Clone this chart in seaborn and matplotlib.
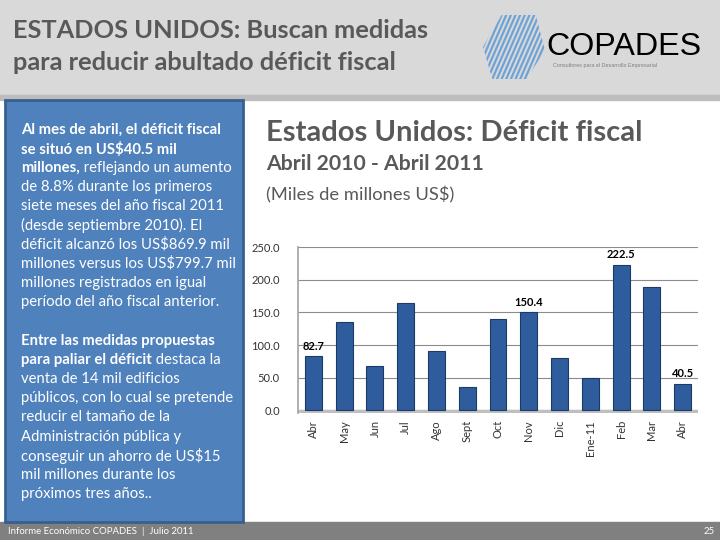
import numpy as np
import pandas as pd
import seaborn as sns
import matplotlib.pyplot as plt
from matplotlib.patches import Rectangle, Polygon

# datos del grafico (miles de millones US$)
meses = ["Abr", "May", "Jun", "Jul", "Ago", "Sept", "Oct", "Nov", "Dic",
         "Ene-11", "Feb", "Mar", "Abr"]
deficit = [82.7, 135.9, 68.4, 165.0, 90.5, 36.1, 140.4, 150.4, 80.0,
           49.8, 222.5, 188.2, 40.5]
etiquetados = [0, 7, 10, 12]
yticks = [0, 50, 100, 150, 200, 250]

parrafo1 = [
    [("Al mes de abril, el déficit fiscal", "bold")],
    [("se situó en US$40.5 mil", "bold")],
    [("millones,", "bold"), (" reflejando un aumento", "normal")],
    [("de 8.8% durante los primeros", "normal")],
    [("siete meses del año fiscal 2011", "normal")],
    [("(desde septiembre 2010). El", "normal")],
    [("déficit alcanzó los US$869.9 mil", "normal")],
    [("millones versus los US$799.7 mil", "normal")],
    [("millones registrados en igual", "normal")],
    [("período del año fiscal anterior.", "normal")],
]
parrafo2 = [
    [("Entre las medidas propuestas", "bold")],
    [("para paliar el déficit", "bold"), (" destaca la", "normal")],
    [("venta de 14 mil edificios", "normal")],
    [("públicos, con lo cual se pretende", "normal")],
    [("reducir el tamaño de la", "normal")],
    [("Administración pública y", "normal")],
    [("conseguir un ahorro de US$15", "normal")],
    [("mil millones durante los", "normal")],
    [("próximos tres años..", "normal")],
]

sns.set_theme(style="white")
plt.rcParams['font.family'] = ['Lato', 'DejaVu Sans']

W, H = 720, 540
fig = plt.figure(figsize=(7.2, 5.4), dpi=100)
fig.patch.set_facecolor("white")


def fx(px):
    return px / W


def fy(py):
    return 1 - py / H


# fondos de la lamina
fig.add_artist(Rectangle((0, fy(95)), 1, 95 / H, transform=fig.transFigure,
                         color="#d9d9d9", zorder=0))
fig.add_artist(Rectangle((0, fy(100)), 1, 5 / H, transform=fig.transFigure,
                         color="#bdbdbd", zorder=0))
fig.add_artist(Rectangle((0, 0), 1, 18 / H, transform=fig.transFigure,
                         color="#808080", zorder=0))
fig.add_artist(Rectangle((fx(5), fy(522)), 238 / W, 422 / H,
                         transform=fig.transFigure, facecolor="#4f81bd",
                         edgecolor="#38608f", lw=2, zorder=1))

ax_txt = fig.add_axes([0, 0, 1, 1])
ax_txt.axis("off")
ax_txt.set_zorder(5)

# titulo
fig.text(fx(13), fy(30), "ESTADOS UNIDOS: Buscan medidas", fontsize=18.3,
         fontweight="bold", color="#595959", va="center")
fig.text(fx(13), fy(62), "para reducir abultado déficit fiscal",
         fontsize=18.3, fontweight="bold", color="#595959", va="center")

# logo
ax_logo = fig.add_axes([fx(483), fy(79), 62 / W, 64 / H])
ax_logo.set_xlim(0, 1)
ax_logo.set_ylim(0, 1)
ax_logo.axis("off")
hexa = Polygon([(0.0, 0.5), (0.3, 1.0), (0.85, 1.0), (1.0, 0.45),
                (0.7, 0.0), (0.15, 0.0)], closed=True, facecolor="none",
               edgecolor="none")
ax_logo.add_patch(hexa)
for x0 in np.arange(-0.6, 1.0, 0.075):
    ln, = ax_logo.plot([x0, x0 + 0.45], [0, 1], color="#6fa3d6", lw=1.6)
    ln.set_clip_path(hexa)
fig.text(fx(546), fy(47), "COPADES", fontsize=23.2, color="black",
         family="Liberation Sans", va="center")
fig.text(fx(553), fy(65), "Consultores para el Desarrollo Empresarial",
         fontsize=3.9, color="#7f7f7f", family="Liberation Sans", va="center")


# texto del panel azul
def escribir(lineas, y0):
    for k, segs in enumerate(lineas):
        y = fy(y0 + k * 19.1)
        prev = None
        for s, w in segs:
            if prev is None:
                prev = ax_txt.text(fx(21), y, s, fontsize=10.7, fontweight=w,
                                   color="white", va="center")
            else:
                prev = ax_txt.annotate(s, xy=(1, 0), xycoords=prev,
                                       va="bottom", fontsize=10.7,
                                       fontweight=w, color="white")


escribir(parrafo1, 130)
escribir(parrafo2, 341)

# pie de pagina
fig.text(fx(8), fy(531), "Informe Económico COPADES  |  Julio 2011",
         fontsize=6.9, color="white", va="center")
fig.text(fx(704), fy(531), "25", fontsize=6.9, color="white", va="center")

# titulos del grafico
fig.text(fx(266), fy(133), "Estados Unidos: Déficit fiscal", fontsize=21,
         fontweight="bold", color="#595959", va="center")
fig.text(fx(266), fy(164), "Abril 2010 - Abril 2011", fontsize=15.3,
         fontweight="bold", color="#595959", va="center")
fig.text(fx(266), fy(195), "(Miles de millones US$)", fontsize=13.2,
         color="#595959", va="center")

# grafico de barras
df = pd.DataFrame({"pos": range(len(meses)), "deficit": deficit})
ax = fig.add_axes([fx(298), fy(413), 400 / W, 166 / H])
sns.barplot(data=df, x="pos", y="deficit", color="#2f5c9c", width=0.55,
            edgecolor="#1c3a66", linewidth=0.8, saturation=1, ax=ax, zorder=3)
ax.set_ylim(-4, 250)
ax.axhspan(-4, 0, color="#bfbfbf", zorder=2)
ax.set_yticks(yticks)
ax.set_yticklabels([f"{v:.1f}" for v in yticks], fontsize=8, color="#333333")
ax.set_xticks(range(len(meses)))
ax.set_xticklabels(meses, rotation=90, fontsize=8, color="#333333")
ax.set_xlabel("")
ax.set_ylabel("")
ax.yaxis.grid(True, color="#8c8c8c", lw=0.8, zorder=0)
ax.set_axisbelow(True)
for s in ["top", "right", "bottom"]:
    ax.spines[s].set_visible(False)
ax.spines["left"].set_color("#a6a6a6")
ax.tick_params(axis="y", length=0, pad=13)
ax.tick_params(axis="x", length=0, pad=5)
ax.set_facecolor("white")
for i in etiquetados:
    ax.text(i, deficit[i] + 7, f"{deficit[i]:.1f}", ha="center", va="bottom",
            fontsize=8, fontweight="bold", color="black")

fig.savefig("out.png", dpi=100)
